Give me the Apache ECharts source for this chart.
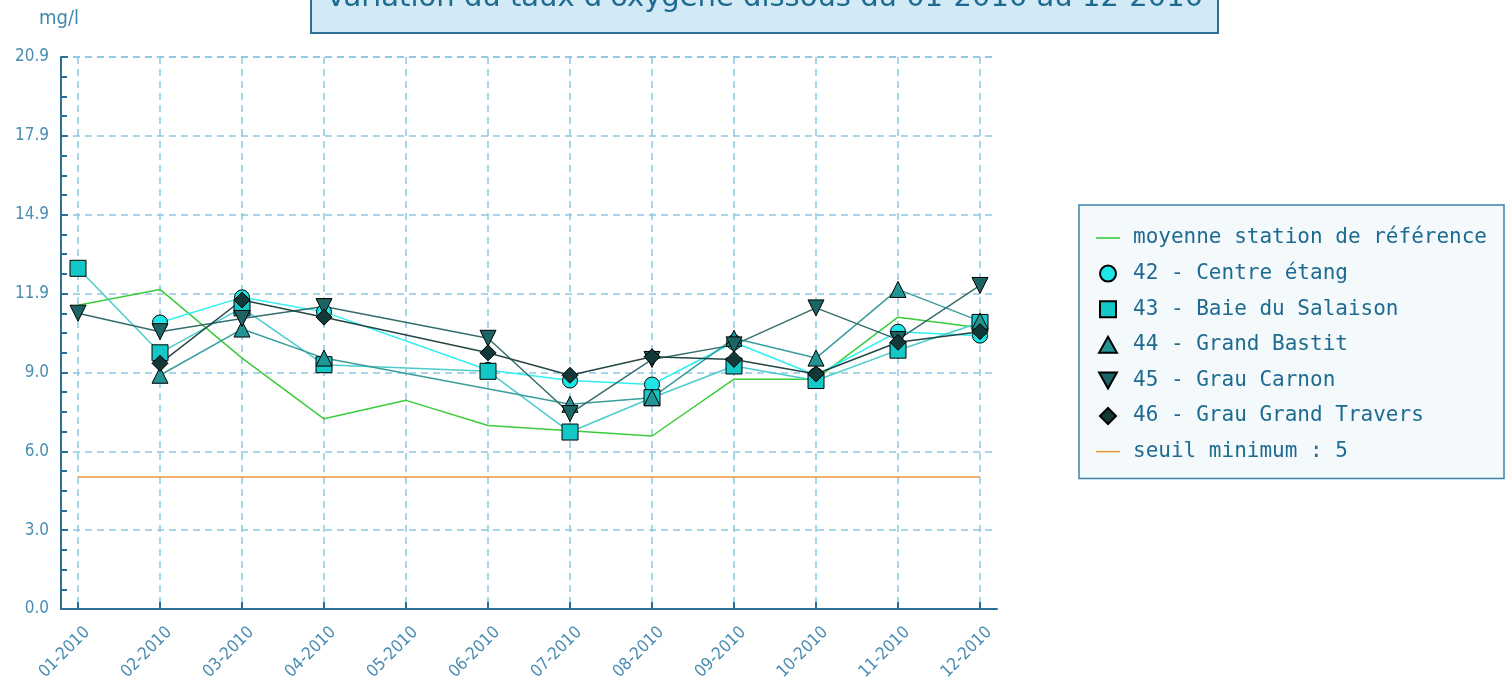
<!DOCTYPE html>
<html>
<head>
<meta charset="utf-8">
<script src="https://cdn.jsdelivr.net/npm/echarts@6/dist/echarts.min.js"></script>
<style>
  html, body { margin: 0; padding: 0; background: #fff; }
  #chart { width: 1505px; height: 686px; }
</style>
</head>
<body>
<div id="chart"></div>
<script>
// mois (axe x)
const months = ['01-2010', '02-2010', '03-2010', '04-2010', '05-2010', '06-2010',
  '07-2010', '08-2010', '09-2010', '10-2010', '11-2010', '12-2010'];
const moyenneRef = [11.5, 12.1, 9.5, 7.2, 7.9, 6.95, 6.75, 6.55, 8.7, 8.7, 11.05, 10.65];
const centreEtang = [null, 10.85, 11.8, 11.25, null, 9.05, 8.65, 8.5, 10.1, 8.85, 10.5, 10.35];
const baieSalaison = [12.9, 9.7, 11.4, 9.25, null, 9.0, 6.7, 8.0, 9.2, 8.65, 9.8, 10.85];
const grandBastit = [null, 8.85, 10.6, 9.5, null, null, 7.75, 8.0, 10.25, 9.5, 12.1, 10.9];
const grauCarnon = [11.2, 10.5, 11.0, 11.45, null, 10.25, 7.4, 9.45, 10.0, 11.4, 10.2, 12.25];
const grauGrandTravers = [null, 9.3, 11.7, 11.05, null, 9.7, 8.85, 9.55, 9.45, 8.9, 10.1, 10.5];
const seuilMin = [5, 5, 5, 5, 5, 5, 5, 5, 5, 5, 5, 5];

const yMax = 20.9;
const monthIdx = months.map((m, i) => i);

const chart = echarts.init(document.getElementById('chart'));

// paires [indice, valeur] sans les mois manquants
function toPoints(arr) {
  const out = [];
  arr.forEach((v, i) => { if (v !== null) out.push([i, v]); });
  return out;
}

function stationSerie(name, arr, symbol, size, fill, line, rotate) {
  return {
    name: name,
    type: 'line',
    data: toPoints(arr),
    symbol: symbol,
    symbolSize: size,
    symbolRotate: rotate || 0,
    showAllSymbol: true,
    itemStyle: { color: fill, borderColor: '#000', borderWidth: 1 },
    lineStyle: { color: line, width: 1.5 },
    emphasis: { disabled: true }
  };
}

const axisFont = 'DejaVu Sans Condensed';
const legendFont = { fontFamily: 'DejaVu Sans Mono', fontSize: 21, color: '#1f6b90', lineHeight: 24, padding: [0, 0, 0, 8] };

const option = {
  animation: false,
  title: {
    text: "Variation du taux d'oxygène dissous du 01-2010 au 12-2010",
    left: 311,
    top: -22,
    padding: [4, 15, 18, 15],
    backgroundColor: '#d2e9f6',
    borderColor: '#2a6f95',
    borderWidth: 2,
    textStyle: { fontFamily: 'DejaVu Sans', fontSize: 29, fontWeight: 'normal', color: '#1f6b90', lineHeight: 33 }
  },
  legend: {
    orient: 'vertical',
    left: 1079,
    top: 205,
    padding: [21, 17, 15, 17],
    itemGap: 11.6,
    itemWidth: 24,
    itemHeight: 16,
    backgroundColor: '#f4f9fc',
    borderColor: '#3a84aa',
    borderWidth: 1.5,
    textStyle: legendFont,
    selectedMode: false,
    data: [
      { name: 'moyenne station de référence', icon: 'path://M0,0h24v1.6h-24z' },
      { name: '42 - Centre étang', icon: 'circle' },
      { name: '43 - Baie du Salaison', icon: 'path://M0,0h10v10h-10z' },
      { name: '44 - Grand Bastit', icon: 'path://M5,0L10,9L0,9Z' },
      { name: '45 - Grau Carnon', icon: 'path://M0,0L10,0L5,9Z' },
      { name: '46 - Grau Grand Travers', icon: 'path://M5,0L10,5L5,10L0,5Z' },
      { name: 'seuil minimum : 5', icon: 'path://M0,0h24v1.6h-24z' }
    ]
  },
  grid: { left: 61, right: 508, top: 57, bottom: 77 },
  xAxis: {
    type: 'value',
    min: -17 / 82,
    max: 11 + 17 / 82,
    axisLine: { onZero: false, lineStyle: { color: '#2a6f95', width: 2 } },
    axisTick: { customValues: monthIdx, inside: true, length: 7, lineStyle: { color: '#2a6f95', width: 2 } },
    axisLabel: {
      customValues: monthIdx,
      formatter: v => months[v],
      rotate: 45,
      margin: 30,
      padding: [0, -13, 0, 0],
      fontFamily: axisFont,
      fontSize: 17,
      color: '#4a8db2'
    },
    splitLine: { show: true, lineStyle: { color: '#8cc8e2', type: [7, 5], width: 1.5 } }
  },
  yAxis: {
    type: 'value',
    min: 0,
    max: yMax,
    interval: yMax / 7,
    name: 'mg/l',
    nameLocation: 'end',
    nameGap: 28,
    nameTextStyle: { fontFamily: axisFont, fontSize: 20, color: '#3f88ad', align: 'center', padding: [0, 4, 0, 0] },
    axisLine: { show: true, onZero: false, lineStyle: { color: '#2a6f95', width: 2 } },
    axisTick: { show: true, inside: true, length: 7, lineStyle: { color: '#2a6f95', width: 2 } },
    minorTick: { show: true, splitNumber: 4, length: 6, lineStyle: { color: '#2a6f95', width: 2 } },
    axisLabel: {
      formatter: v => v.toFixed(1),
      margin: 12,
      fontFamily: axisFont,
      fontSize: 17,
      color: '#4a8db2'
    },
    splitLine: { show: true, lineStyle: { color: '#8cc8e2', type: [7, 5], width: 1.5 } }
  },
  series: [
    {
      name: 'moyenne station de référence',
      type: 'line',
      data: toPoints(moyenneRef),
      symbol: 'none',
      itemStyle: { color: '#3acc3a' },
      lineStyle: { color: '#3acc3a', width: 1.5 },
      emphasis: { disabled: true }
    },
    stationSerie('42 - Centre étang', centreEtang, 'circle', 15, '#1fe6e6', '#2ef0f0'),
    stationSerie('43 - Baie du Salaison', baieSalaison, 'rect', 16, '#14c8c8', '#4ccccc'),
    stationSerie('44 - Grand Bastit', grandBastit, 'triangle', 16, '#229494', '#3a9c9c'),
    stationSerie('45 - Grau Carnon', grauCarnon, 'triangle', 16, '#1c6565', '#356d6d', 180),
    stationSerie('46 - Grau Grand Travers', grauGrandTravers, 'diamond', 16, '#123838', '#264646'),
    {
      name: 'seuil minimum : 5',
      type: 'line',
      data: toPoints(seuilMin),
      symbol: 'none',
      itemStyle: { color: '#e89a3a' },
      lineStyle: { color: '#e89a3a', width: 1.5 },
      emphasis: { disabled: true }
    }
  ]
};

chart.setOption(option);
</script>
</body>
</html>
